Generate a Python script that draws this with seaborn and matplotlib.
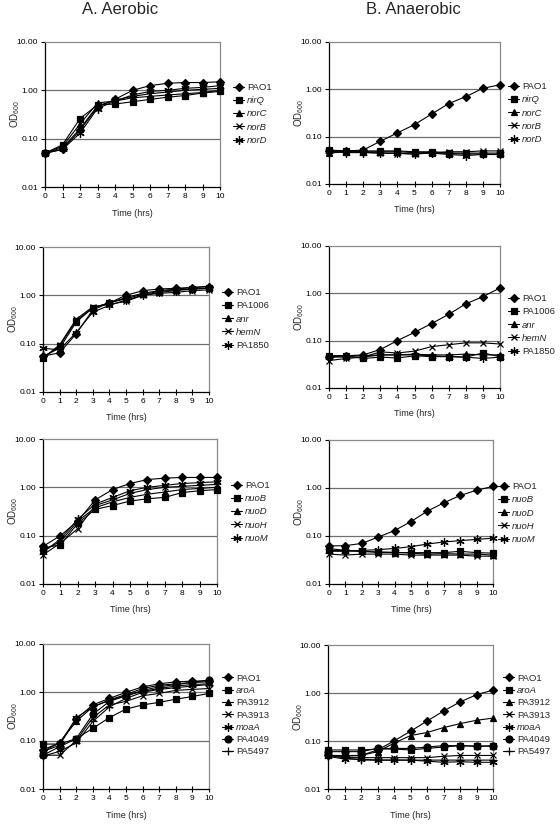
import numpy as np
import pandas as pd
import seaborn as sns
import matplotlib
matplotlib.use("Agg")
from matplotlib import pyplot as plt
from matplotlib.ticker import FixedLocator, FormatStrFormatter, NullLocator

sns.set_style("white")
plt.rcParams['font.family'] = ['Liberation Sans', 'DejaVu Sans']
plt.rcParams['mathtext.fontset'] = 'custom'
plt.rcParams['mathtext.rm'] = 'Liberation Sans'

hours = list(range(11))

# panel 1: aerobic, nir/nor
aer_nor_names = ["PAO1", "nirQ", "norC", "norB", "norD"]
aer_nor = [
    [0.05, 0.06, 0.15, 0.45, 0.65, 1.0, 1.25, 1.4, 1.45, 1.45, 1.5],
    [0.05, 0.075, 0.26, 0.5, 0.52, 0.58, 0.65, 0.72, 0.78, 0.88, 0.95],
    [0.05, 0.07, 0.2, 0.55, 0.6, 0.7, 0.75, 0.8, 0.85, 0.9, 1.0],
    [0.05, 0.065, 0.16, 0.48, 0.62, 0.75, 0.85, 0.92, 1.0, 1.05, 1.1],
    [0.05, 0.06, 0.13, 0.42, 0.6, 0.8, 0.95, 1.0, 1.1, 1.15, 1.25],
]
# panel 2: anaerobic, nir/nor
ana_nor = [
    [0.05, 0.05, 0.052, 0.08, 0.12, 0.18, 0.3, 0.5, 0.7, 1.05, 1.25],
    [0.052, 0.05, 0.05, 0.05, 0.05, 0.048, 0.048, 0.045, 0.045, 0.045, 0.045],
    [0.045, 0.048, 0.048, 0.048, 0.048, 0.046, 0.046, 0.044, 0.043, 0.043, 0.042],
    [0.048, 0.048, 0.047, 0.045, 0.044, 0.043, 0.046, 0.048, 0.048, 0.05, 0.05],
    [0.05, 0.046, 0.046, 0.045, 0.045, 0.043, 0.045, 0.042, 0.04, 0.042, 0.042],
]
# panel 3/4: anr
anr_names = ["PAO1", "PA1006", "anr", "hemN", "PA1850"]
aer_anr = [
    [0.055, 0.065, 0.16, 0.5, 0.7, 1.0, 1.25, 1.35, 1.4, 1.45, 1.5],
    [0.05, 0.09, 0.3, 0.55, 0.7, 0.85, 1.05, 1.2, 1.3, 1.35, 1.4],
    [0.055, 0.08, 0.28, 0.55, 0.7, 0.9, 1.1, 1.25, 1.35, 1.45, 1.55],
    [0.05, 0.095, 0.32, 0.58, 0.65, 0.75, 1.0, 1.1, 1.15, 1.25, 1.3],
    [0.08, 0.075, 0.17, 0.45, 0.62, 0.8, 1.0, 1.15, 1.25, 1.35, 1.4],
]
ana_anr = [
    [0.045, 0.048, 0.05, 0.065, 0.1, 0.15, 0.23, 0.36, 0.6, 0.85, 1.3],
    [0.048, 0.048, 0.042, 0.045, 0.043, 0.048, 0.046, 0.046, 0.045, 0.055, 0.046],
    [0.048, 0.048, 0.048, 0.05, 0.05, 0.052, 0.05, 0.05, 0.052, 0.05, 0.05],
    [0.038, 0.042, 0.045, 0.058, 0.055, 0.06, 0.075, 0.082, 0.09, 0.09, 0.085],
    [0.045, 0.045, 0.045, 0.05, 0.05, 0.05, 0.048, 0.046, 0.045, 0.042, 0.045],
]
# panel 5/6: nuo
nuo_names = ["PAO1", "nuoB", "nuoD", "nuoH", "nuoM"]
aer_nuo = [
    [0.06, 0.1, 0.2, 0.55, 0.9, 1.2, 1.45, 1.55, 1.6, 1.6, 1.6],
    [0.055, 0.065, 0.18, 0.35, 0.42, 0.52, 0.58, 0.62, 0.78, 0.85, 0.9],
    [0.05, 0.075, 0.2, 0.38, 0.5, 0.62, 0.72, 0.8, 0.9, 0.95, 1.0],
    [0.04, 0.07, 0.14, 0.42, 0.55, 0.75, 0.9, 1.0, 1.05, 1.1, 1.15],
    [0.045, 0.085, 0.22, 0.45, 0.62, 0.85, 1.0, 1.1, 1.2, 1.25, 1.3],
]
ana_nuo = [
    [0.062, 0.063, 0.07, 0.095, 0.13, 0.2, 0.33, 0.49, 0.7, 0.9, 1.08],
    [0.05, 0.05, 0.048, 0.046, 0.045, 0.045, 0.045, 0.045, 0.048, 0.045, 0.044],
    [0.055, 0.05, 0.048, 0.046, 0.046, 0.044, 0.042, 0.043, 0.042, 0.042, 0.04],
    [0.042, 0.04, 0.042, 0.042, 0.042, 0.04, 0.04, 0.04, 0.04, 0.038, 0.038],
    [0.048, 0.048, 0.05, 0.052, 0.055, 0.06, 0.068, 0.075, 0.08, 0.085, 0.09],
]
# panel 7/8: moa etc
moa_names = ["PAO1", "aroA", "PA3912", "PA3913", "moaA", "PA4049", "PA5497"]
aer_moa = [
    [0.065, 0.09, 0.28, 0.55, 0.75, 1.0, 1.3, 1.5, 1.65, 1.7, 1.75],
    [0.085, 0.085, 0.11, 0.18, 0.3, 0.45, 0.55, 0.62, 0.72, 0.82, 0.95],
    [0.06, 0.09, 0.25, 0.5, 0.7, 0.9, 1.2, 1.4, 1.5, 1.6, 1.65],
    [0.05, 0.05, 0.1, 0.3, 0.55, 0.65, 0.85, 0.95, 1.1, 1.15, 1.2],
    [0.06, 0.08, 0.3, 0.5, 0.68, 0.85, 1.05, 1.2, 1.35, 1.45, 1.5],
    [0.05, 0.075, 0.11, 0.35, 0.65, 0.85, 1.1, 1.3, 1.45, 1.6, 1.8],
    [0.048, 0.06, 0.09, 0.25, 0.5, 0.75, 1.0, 1.15, 1.25, 1.35, 1.45],
]
ana_moa = [
    [0.05, 0.048, 0.05, 0.065, 0.1, 0.16, 0.26, 0.42, 0.65, 0.92, 1.15],
    [0.065, 0.065, 0.065, 0.068, 0.068, 0.065, 0.07, 0.075, 0.08, 0.078, 0.08],
    [0.05, 0.05, 0.05, 0.06, 0.09, 0.13, 0.15, 0.19, 0.23, 0.27, 0.3],
    [0.05, 0.045, 0.045, 0.045, 0.045, 0.045, 0.045, 0.048, 0.05, 0.05, 0.05],
    [0.048, 0.042, 0.042, 0.04, 0.04, 0.04, 0.038, 0.036, 0.037, 0.036, 0.036],
    [0.06, 0.06, 0.06, 0.07, 0.07, 0.07, 0.075, 0.08, 0.08, 0.078, 0.078],
    [0.05, 0.045, 0.04, 0.04, 0.04, 0.04, 0.04, 0.04, 0.04, 0.04, 0.04],
]

italic_names = {"nirQ", "norC", "norB", "norD", "anr", "hemN", "nuoB", "nuoD",
                "nuoH", "nuoM", "aroA", "moaA"}
markers = ["D", "s", "^", "x", (6, 2, 0), "o", "+"]
msizes = [4.5, 4.5, 5, 5, 6, 5, 6]

W, H = 560.0, 824.0

# (left, right, top, bottom) in px, legend (x, center y) in px
panels = [
    (aer_nor, aer_nor_names, (45, 220, 42, 187), (233, 114)),
    (ana_nor, aer_nor_names, (329, 500, 42, 184), (508, 113)),
    (aer_anr, anr_names, (43, 209, 247, 392), (222, 319)),
    (ana_anr, anr_names, (329, 500, 246, 388), (508, 325)),
    (aer_nuo, nuo_names, (43, 217, 439, 584), (231, 512)),
    (ana_nuo, nuo_names, (329, 493, 440, 584), (498, 513)),
    (aer_moa, moa_names, (43, 209, 644, 789), (222, 715)),
    (ana_moa, moa_names, (328, 493, 645, 789), (503, 715)),
]

fig = plt.figure(figsize=(W / 100, H / 100), dpi=100)

for series, names, (l, r, t, b), (lx, ly) in panels:
    ax = fig.add_axes([l / W, 1 - b / H, (r - l) / W, (b - t) / H])
    rows = []
    for name, vals in zip(names, series):
        for h, v in zip(hours, vals):
            rows.append((name, h, v))
    df = pd.DataFrame(rows, columns=["strain", "hour", "od"])
    for i, name in enumerate(names):
        sub = df[df.strain == name]
        sns.lineplot(data=sub, x="hour", y="od", ax=ax, color="black",
                     marker=markers[i], markersize=msizes[i], linewidth=0.8,
                     markeredgecolor="black", markerfacecolor="black",
                     markeredgewidth=0.9, label=name, clip_on=False, zorder=3)
    ax.set_yscale("log")
    ax.set_ylim(0.01, 10)
    ax.set_xlim(0, 10)
    ax.yaxis.set_major_locator(FixedLocator([0.01, 0.1, 1, 10]))
    ax.yaxis.set_major_formatter(FormatStrFormatter("%.2f"))
    ax.yaxis.set_minor_locator(NullLocator())
    ax.set_xticks(hours)
    for yv in [0.1, 1]:
        ax.axhline(yv, color="#6e6e6e", lw=0.9, zorder=1)
    for s in ["top", "right"]:
        ax.spines[s].set_color("#8a8a8a")
        ax.spines[s].set_linewidth(0.9)
    for s in ["left", "bottom"]:
        ax.spines[s].set_color("black")
        ax.spines[s].set_linewidth(0.9)
    ax.tick_params(axis="both", labelsize=6, length=3, width=0.8, pad=2,
                   colors="black", left=True, bottom=True)
    ax.tick_params(axis="x", direction="inout", length=4)
    ax.set_xlabel("")
    ax.set_ylabel("")
    fig.text((l + r) / 2 / W, 1 - (b + 26) / H, "Time (hrs)", fontsize=6.5,
             ha="center", va="center")
    fig.text((l - 30) / W, 1 - (t + b) / 2 / H, r"OD$_{600}$", fontsize=7,
             rotation=90, ha="center", va="center")
    spacing = 0.35 if len(names) > 5 else 0.44
    leg = ax.legend(loc="center left", bbox_to_anchor=(lx / W, 1 - ly / H),
                    bbox_transform=fig.transFigure, frameon=False,
                    fontsize=6.8, handlelength=1.2, handletextpad=0.3,
                    labelspacing=spacing, borderpad=0, borderaxespad=0)
    for txt in leg.get_texts():
        if txt.get_text() in italic_names:
            txt.set_fontstyle("italic")

fig.text(120 / W, 1 - 10 / H, "A. Aerobic", fontsize=12, ha="center", va="center")
fig.text(413 / W, 1 - 10 / H, "B. Anaerobic", fontsize=12, ha="center", va="center")

fig.savefig("out.png", dpi=100, facecolor="white")
